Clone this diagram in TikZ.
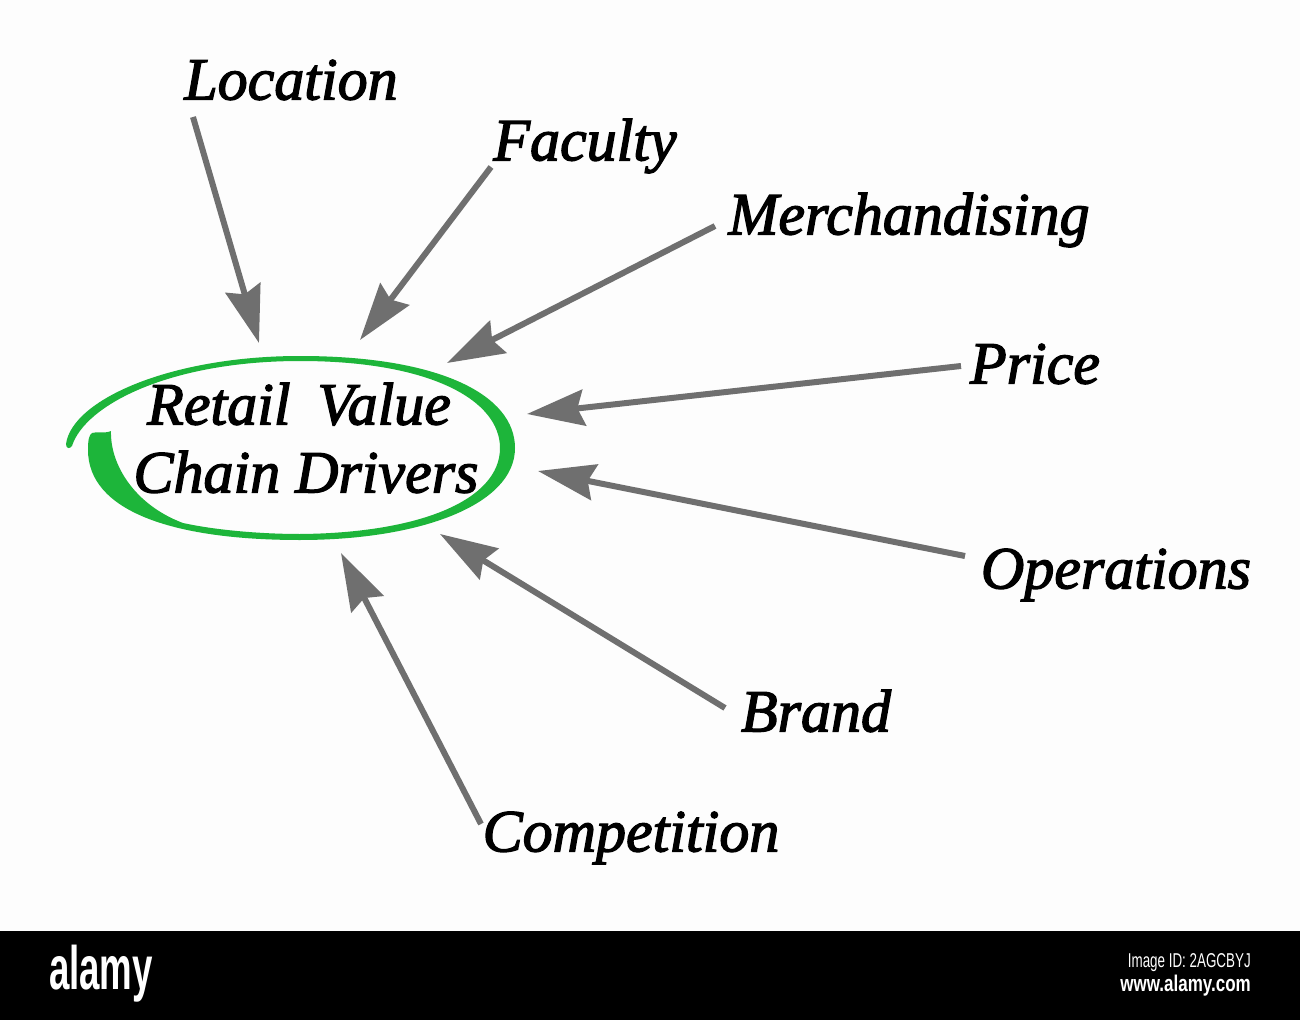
\documentclass[tikz,border=0pt]{standalone}
\usepackage{fontspec}
\setmainfont[ItalicFeatures={FakeBold=2.2}]{Liberation Serif}
\newfontfamily\logofont{Liberation Sans}
\usetikzlibrary{arrows.meta}
\definecolor{pagebg}{HTML}{FDFDFD}
\definecolor{arrowgrey}{HTML}{6F6F6F}
\definecolor{ringgreen}{HTML}{1DB53A}
\tikzset{
  x=0.75pt,y=-0.75pt,
  lbl/.style={font=\fontsize{45}{51}\selectfont\itshape,inner sep=0pt,text=black},
  conn/.style={draw=arrowgrey,line width=4.5pt,-{Stealth[length=43pt,width=27pt,inset=5pt]}},
}
\begin{document}
\begin{tikzpicture}
\useasboundingbox (0,0) rectangle (1300,1020);
\fill[pagebg] (0,0) rectangle (1300,931);
\fill[black] (0,931) rectangle (1300,1020);
\coordinate (locS) at (193,117); \coordinate (locE) at (259,343);
\coordinate (facS) at (491,167); \coordinate (facE) at (360,340);
\coordinate (merS) at (715,226); \coordinate (merE) at (447,363);
\coordinate (priS) at (961,366); \coordinate (priE) at (527,414);
\coordinate (opeS) at (965,556); \coordinate (opeE) at (538,471);
\coordinate (braS) at (725,708); \coordinate (braE) at (440,534);
\coordinate (comS) at (481,824); \coordinate (comE) at (341,553);
\draw[conn] (locS) -- (locE);
\draw[conn] (facS) -- (facE);
\draw[conn] (merS) -- (merE);
\draw[conn] (priS) -- (priE);
\draw[conn] (opeS) -- (opeE);
\draw[conn] (braS) -- (braE);
\draw[conn] (comS) -- (comE);
\fill[ringgreen] (66,444) .. controls (72,400) and (170,356) .. (300,356)
 .. controls (440,356) and (515,395) .. (515,448)
 .. controls (515,505) and (420,540) .. (300,540)
 .. controls (170,540) and (88,510) .. (88,450)
 .. controls (88,440) and (89,435) .. (92,433)
 .. controls (98,431) and (104,434) .. (111,431)
 .. controls (110,465) and (135,505) .. (183,523)
 .. controls (215,530) and (260,534) .. (300,534)
 .. controls (420,533) and (500,500) .. (500,448)
 .. controls (500,400) and (430,361) .. (300,361)
 .. controls (170,361) and (85,405) .. (72,446)
 .. controls (70,449) and (66,449) .. (66,444) -- cycle;
\node[lbl] (loc) at (291,80) {Location};
\node[lbl] (fac) at (585,146) {Faculty};
\node[lbl] (mer) at (909,220) {Merchandising};
\node[lbl] (pri) at (1035,364) {Price};
\node[lbl] (ope) at (1116,575) {Operations};
\node[lbl] (bra) at (816,711) {Brand};
\node[lbl] (com) at (631,838) {Competition};
\node[lbl,align=center] (hub) at (306,438) {Retail\hspace{9pt} Value\hspace*{10.5pt}\\Chain Drivers};
\node[text=white,inner sep=0pt] (alamy) at (101,974) {\scalebox{0.55}[0.92]{\fontsize{50}{50}\selectfont\bfseries\logofont alamy}};
\node[text=white,anchor=east,inner sep=0pt] (imgid) at (1251,963) {\scalebox{0.67}[1]{\fontsize{15}{15}\selectfont\logofont Image ID: 2AGCBYJ}};
\node[text=white,anchor=east,inner sep=0pt] (site) at (1251,986) {\scalebox{0.75}[1]{\fontsize{17}{17}\selectfont\bfseries\logofont www.alamy.com}};
\end{tikzpicture}
\end{document}
